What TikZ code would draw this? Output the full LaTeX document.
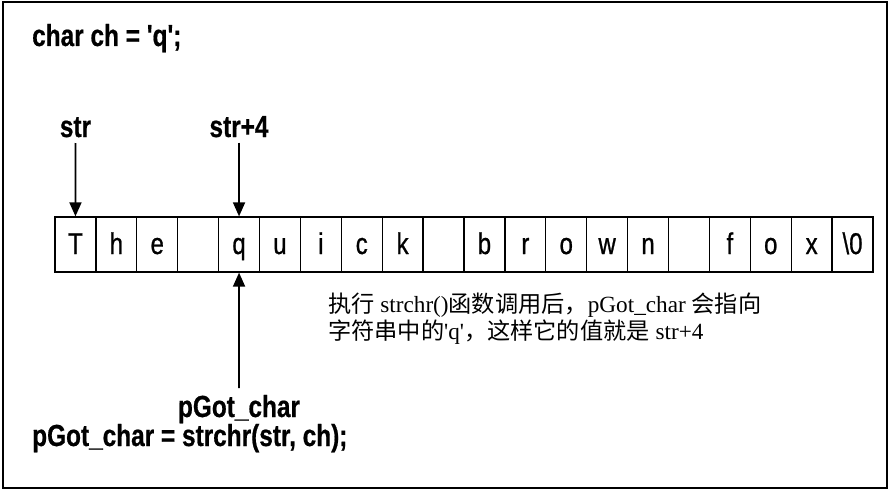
\documentclass[tikz,border=0pt]{standalone}
\usepackage{fontspec}
\usetikzlibrary{arrows.meta}
\newfontfamily\labfont[FakeStretch=0.8,FakeBold=0.6,UprightFont={* Bold}]{Liberation Sans}
\newfontfamily\cellfont[FakeStretch=0.8,FakeBold=0.8]{Liberation Sans}
\newfontfamily\cjkfont{Noto Sans CJK SC}
\newfontfamily\serifl{Liberation Serif}
\tikzset{
  cell/.style={draw, line width=1.3pt, minimum width=40.9pt, minimum height=55pt, inner sep=0pt,
    text height=21pt, text depth=2pt,
    font=\cellfont\fontsize{30}{32}\selectfont},
  codelabel/.style={inner sep=0pt, font=\labfont\fontsize{30.5}{34}\selectfont},
  ptr/.style={line width=1.8pt, -{Triangle[length=14pt,width=12pt]}},
  note/.style={inner sep=0pt, anchor=base west, font=\fontsize{23.2}{27}\selectfont}
}
\begin{document}
\begin{tikzpicture}[x=1pt,y=-1pt]
\useasboundingbox (0,0) rectangle (893,492);
\draw[line width=2.6pt] (3,2) rectangle (887,488);
\node[codelabel, anchor=base west] (decl) at (32,46) {char ch = 'q';};
\foreach \c [count=\i] in {T,h,e,{},q,u,i,c,k,{},b,r,o,w,n,{},f,o,x,{\textbackslash 0}} {
  \node[cell] (c\i) at ({55+40.9*(\i-0.5)},244.5) {\c};
}
\node[codelabel, anchor=base] (str) at (75.5,137) {str};
\node[codelabel, anchor=base] (str4) at (239,137) {str+4};
\node[codelabel, anchor=base] (pgot) at (239,417) {pGot\_char};
\node[codelabel, anchor=base west] (call) at (32,446) {pGot\_char = strchr(str, ch);};
\coordinate (s1) at (75.5,143);
\coordinate (s4) at (239,143);
\coordinate (p1) at (239,388);
\draw[ptr] (s1) -- (c1.north);
\draw[ptr] (s4) -- (c5.north);
\draw[ptr] (p1) -- (c5.south);
\node[note] (n1) at (328,312) {\cjkfont 执行\serifl{} strchr()\cjkfont 函数调用后，\serifl pGot\_char \cjkfont 会指向};
\node[note] (n2) at (328,339) {\cjkfont 字符串中的\serifl 'q'\cjkfont ，这样它的值就是\serifl{} str+4};
\end{tikzpicture}
\end{document}
